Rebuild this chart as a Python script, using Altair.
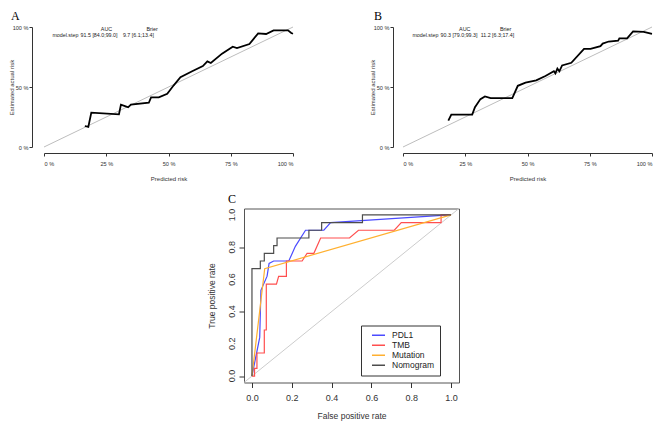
import altair as alt
import pandas as pd

# ---------------- data ----------------
pct_ticks = [0, 0.25, 0.5, 0.75, 1.0]
roc_ticks = [0, 0.2, 0.4, 0.6, 0.8, 1.0]
roc_tick_labels = ["0.0", "0.2", "0.4", "0.6", "0.8", "1.0"]
unit_line = [0, 1]
roc_domain = [-0.04, 1.04]

a_pred = [0.164, 0.178, 0.190, 0.301, 0.309, 0.328, 0.338, 0.349, 0.421, 0.430, 0.461, 0.495, 0.521, 0.548,
          0.595, 0.638, 0.656, 0.670, 0.715, 0.758, 0.775, 0.825, 0.860, 0.892, 0.922, 0.980, 0.993, 1.0]
a_obs = [0.175, 0.167, 0.286, 0.272, 0.353, 0.339, 0.331, 0.353, 0.369, 0.414, 0.414, 0.444, 0.514, 0.581,
         0.631, 0.675, 0.714, 0.700, 0.778, 0.836, 0.825, 0.858, 0.947, 0.942, 0.972, 0.972, 0.950, 0.944]

b_pred = [0.182, 0.194, 0.278, 0.289, 0.311, 0.329, 0.352, 0.439, 0.461, 0.492, 0.535, 0.572, 0.606, 0.612,
          0.620, 0.628, 0.639, 0.676, 0.727, 0.753, 0.793, 0.802, 0.826, 0.864, 0.869, 0.900, 0.924, 0.967, 1.0]
b_obs = [0.220, 0.270, 0.270, 0.331, 0.399, 0.421, 0.408, 0.408, 0.510, 0.537, 0.556, 0.592, 0.631, 0.614,
         0.653, 0.631, 0.680, 0.702, 0.818, 0.818, 0.840, 0.862, 0.879, 0.887, 0.906, 0.906, 0.964, 0.959, 0.942]

a_header = ["AUC", "Brier"]
a_row = ["model.step", "91.5 [84.0;99.0]", "9.7 [6.1;13.4]"]
b_header = ["AUC", "Brier"]
b_row = ["model.step", "90.3 [79.0;99.3]", "11.2 [6.3;17.4]"]

series = ["PDL1", "TMB", "Mutation", "Nomogram"]
series_colors = ["#4b4bff", "#ff4f4f", "#ffb030", "#4d4d4d"]

pdl1_fpr = [0, 0.039, 0.045, 0.076, 0.086, 0.109, 0.185, 0.218, 0.269, 0.361, 0.395, 0.992, 1.0]
pdl1_tpr = [0, 0.240, 0.532, 0.620, 0.699, 0.714, 0.714, 0.805, 0.905, 0.905, 0.952, 1.0, 1.0]
tmb_fpr = [0, 0.013, 0.013, 0.025, 0.025, 0.062, 0.062, 0.072, 0.072, 0.123, 0.134, 0.173, 0.173, 0.252,
           0.277, 0.311, 0.345, 0.490, 0.535, 0.715, 0.750, 0.950, 0.950, 1.0]
tmb_tpr = [0, 0, 0.048, 0.048, 0.143, 0.143, 0.286, 0.286, 0.571, 0.571, 0.619, 0.619, 0.714, 0.714,
           0.762, 0.762, 0.857, 0.857, 0.905, 0.905, 0.952, 0.952, 1.0, 1.0]
mut_fpr = [0, 0.064, 1.0]
mut_tpr = [0, 0.667, 1.0]
nomo_fpr = [0, 0, 0.042, 0.042, 0.062, 0.062, 0.109, 0.109, 0.126, 0.126, 0.286, 0.286, 0.350, 0.350,
            0.555, 0.555, 1.0]
nomo_tpr = [0, 0.667, 0.667, 0.714, 0.714, 0.762, 0.762, 0.810, 0.810, 0.857, 0.857, 0.905, 0.905, 0.952,
            0.952, 1.0, 1.0]

SANS = "Liberation Sans"
SERIF = "Liberation Serif"
AX = "#333333"
NOBOX = alt.ViewBackground(stroke="transparent", strokeWidth=0)


def calib_panel(pred, obs, header, row, letter, letter_dx, yoff, hdr_x, row_x, w, h):
    xs = alt.Scale(domain=[0, 1], nice=False, zero=False)
    ys = alt.Scale(domain=[0, 1], nice=False, zero=False)
    pct = "format(datum.value*100, 'd') + ' %'"
    xax = alt.Axis(values=pct_ticks, labelExpr=pct, offset=6, tickSize=3, labelPadding=5.5,
                   labelFontSize=5.6, labelFont=SANS, labelColor=AX, domainColor=AX, tickColor=AX,
                   title="Predicted risk", titleFontSize=6, titleFont=SANS, titleFontWeight="normal",
                   titleColor=AX, titlePadding=8, grid=False, labelOverlap=False)
    yax = alt.Axis(values=pct_ticks, labelExpr=pct, offset=yoff, tickSize=3, labelPadding=1,
                   labelFontSize=5.6, labelFont=SANS, labelColor=AX, domainColor=AX, tickColor=AX,
                   title="Estimated actual risk", titleFontSize=6, titleFont=SANS,
                   titleFontWeight="normal", titleColor=AX, titlePadding=-2, grid=False,
                   labelOverlap=False)
    diag = alt.Chart(pd.DataFrame({"p": unit_line, "q": unit_line})).mark_line(
        color="#bdbdbd", strokeWidth=1).encode(
        x=alt.X("p:Q", scale=xs, axis=xax), y=alt.Y("q:Q", scale=ys, axis=yax))
    df = pd.DataFrame({"p": pred, "q": obs, "i": list(range(len(pred)))})
    curve = alt.Chart(df).mark_line(color="black", strokeWidth=1.8).encode(
        x="p:Q", y="q:Q", order="i:Q")
    layers = [diag, curve]
    tdf = pd.DataFrame({"k": [0]})
    for txt, px in zip(header, hdr_x):
        layers.append(alt.Chart(tdf).mark_text(font=SANS, fontSize=5.4, color="#222", align="center").encode(
            x=alt.datum(px), y=alt.datum(0.985), text=alt.value(txt)))
    aligns = ["right", "left", "left"]
    for txt, px, al in zip(row, row_x, aligns):
        layers.append(alt.Chart(tdf).mark_text(font=SANS, fontSize=5.3, color="#222", align=al).encode(
            x=alt.datum(px), y=alt.datum(0.93), text=alt.value(txt)))
    return alt.layer(*layers).properties(
        width=w, height=h, view=NOBOX,
        title=alt.TitleParams(letter, anchor="start", frame="group", dx=letter_dx, font=SERIF,
                              fontSize=12, fontWeight="normal", color="black", offset=2))


A = calib_panel(a_pred, a_obs, a_header, a_row, "A", -33, 12, [0.251, 0.434], [0.138, 0.147, 0.317], 249, 120)
B = calib_panel(b_pred, b_obs, b_header, b_row, "B", -29, 10, [0.248, 0.412], [0.142, 0.151, 0.312], 249, 120)

# ---------------- ROC panel ----------------
cx = alt.Scale(domain=roc_domain, nice=False, zero=False)
cy = alt.Scale(domain=roc_domain, nice=False, zero=False)
cxax = alt.Axis(values=roc_ticks, format=".1f", domain=False, tickSize=5, tickColor=AX, labelPadding=6,
                labelFontSize=9, labelFont=SANS, labelColor=AX, title="False positive rate",
                titleFontSize=8.5, titleFont=SANS, titleFontWeight="normal", titleColor=AX,
                titlePadding=9, grid=False, labelOverlap=False)
cyax = alt.Axis(values=roc_ticks, labels=False, domain=False, tickSize=5, tickColor=AX,
                title="True positive rate",
                titleFontSize=8.5, titleFont=SANS, titleFontWeight="normal", titleColor=AX,
                titlePadding=22, grid=False)

cdiag = alt.Chart(pd.DataFrame({"f": roc_domain, "t": roc_domain})).mark_line(
    color="#cccccc", strokeWidth=1).encode(
    x=alt.X("f:Q", scale=cx, axis=cxax), y=alt.Y("t:Q", scale=cy, axis=cyax))

# rotated y tick labels (R style, parallel to the axis)
ylabels = alt.Chart(pd.DataFrame({"t": roc_ticks, "lab": roc_tick_labels})).mark_text(
    angle=270, align="center", baseline="bottom", fontSize=9, font=SANS, color=AX).encode(
    y="t:Q", x=alt.value(-7), text="lab:N")

color_scale = alt.Scale(domain=series, range=series_colors)
legend = alt.Legend(orient="none", legendX=317, legendY=298.5, title=None, strokeColor="#333",
                    fillColor="white", padding=5, symbolType="stroke", symbolSize=169,
                    symbolStrokeWidth=1.5, symbolOffset=5, labelOffset=6, labelFontSize=8.5,
                    labelFont=SANS, labelColor="#222", clipHeight=9.6, rowPadding=0)

roc_layers = [cdiag]
for name, fx, ty in zip(series, [pdl1_fpr, tmb_fpr, mut_fpr, nomo_fpr],
                        [pdl1_tpr, tmb_tpr, mut_tpr, nomo_tpr]):
    d = pd.DataFrame({"f": fx, "t": ty, "i": list(range(len(fx))), "s": [name] * len(fx)})
    roc_layers.append(alt.Chart(d).mark_line(strokeWidth=1.2).encode(
        x="f:Q", y="t:Q", order="i:Q",
        color=alt.Color("s:N", scale=color_scale, legend=legend)))
roc_layers.append(ylabels)

C = alt.layer(*roc_layers).properties(
    width=215, height=174,
    view=alt.ViewBackground(stroke="#555555", strokeWidth=1),
    title=alt.TitleParams("C", anchor="start", frame="group", dx=-16, font=SERIF, fontSize=12,
                          fontWeight="normal", color="black", offset=0.5))

spacer = alt.Chart(pd.DataFrame({"k": [0]})).mark_point(opacity=0).encode(
    x=alt.value(0), y=alt.value(0)).properties(width=200, height=174, view=NOBOX)

top = alt.hconcat(A, B, spacing=110, bounds="flush")
bottom = alt.hconcat(spacer, C, spacing=0, bounds="flush")
chart = alt.vconcat(top, bottom, spacing=10.5).properties(
    padding={"left": 0, "top": 2, "right": 0, "bottom": 0}
).configure_view(stroke="transparent", strokeWidth=0).configure(background="white")

chart.save("out.html", embed_options={"renderer": "svg", "actions": False})
